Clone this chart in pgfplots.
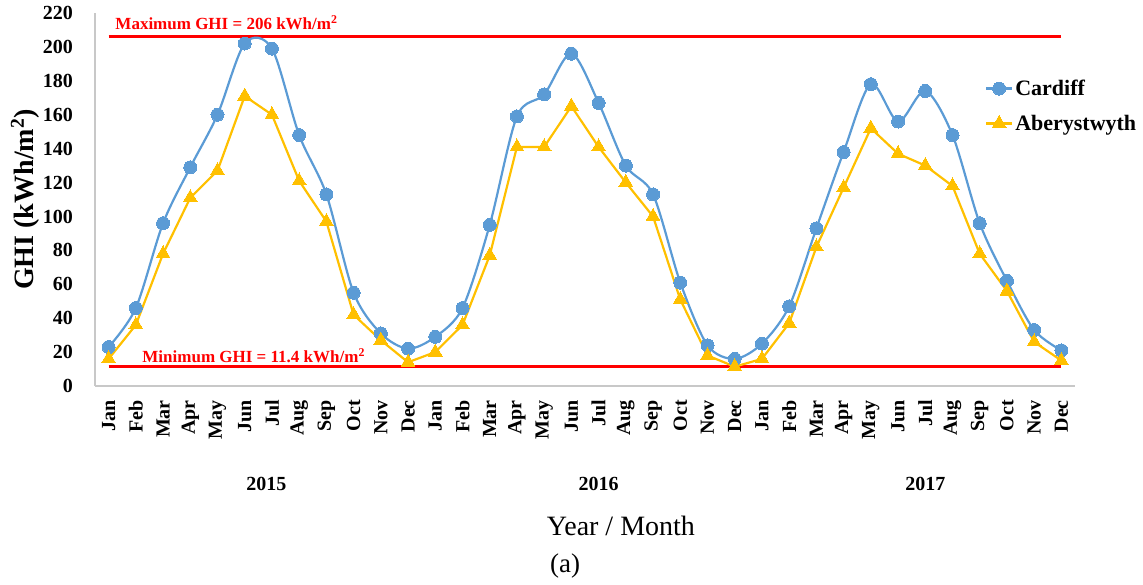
\documentclass[border=0pt]{standalone}
\usepackage{pgfplots}
\pgfplotsset{compat=1.18}
\usepackage{fontspec}
\setmainfont{Liberation Serif}
\definecolor{cblue}{HTML}{5B9BD5}
\definecolor{cgold}{HTML}{FFC000}
\definecolor{cred}{HTML}{FF0000}
\definecolor{axgray}{HTML}{C8C8C8}
\newcommand{\fs}[1]{\fontsize{#1}{#1}\selectfont}
\pgfplotstableread{
x cardiff aber
0 23 16
1 46 36
2 96 78
3 129 111
4 160 127
5 202 171
6 199 160
7 148 121
8 113 97
9 55 42
10 31 27
11 22 14
12 29 20
13 46 36
14 95 77
15 159 141
16 172 141
17 196 165
18 167 141
19 130 120
20 113 100
21 61 51
22 24 18
23 16 11.4
24 25 16
25 47 37
26 93 82
27 138 117
28 178 152
29 156 137
30 174 130
31 148 118
32 96 78
33 62 56
34 33 26
35 21 15
}\ghidata
\begin{document}
\begin{tikzpicture}
\begin{axis}[
 at={(0,0)}, anchor=south west,
 scale only axis, width=980pt, height=373pt,
 xmin=-0.5, xmax=35.5, ymin=0, ymax=220,
 axis x line*=bottom, axis y line*=left,
 axis line style={axgray, line width=1.2pt},
 ytick={0,20,...,220},
 xtick={0,...,35},
 xticklabels={Jan,Feb,Mar,Apr,May,Jun,Jul,Aug,Sep,Oct,Nov,Dec,Jan,Feb,Mar,Apr,May,Jun,Jul,Aug,Sep,Oct,Nov,Dec,Jan,Feb,Mar,Apr,May,Jun,Jul,Aug,Sep,Oct,Nov,Dec},
 major tick length=0pt,
 /pgf/number format/assume math mode=true,
 yticklabel style={font=\bfseries\fs{20}, inner sep=0pt, anchor=east, xshift=-22pt},
 xticklabel style={font=\bfseries\fs{20}, inner sep=0pt, rotate=90, anchor=east, xshift=-14pt},
 clip=false,
 legend style={at={(axis description cs:0.908,0.826)}, anchor=north west, draw=none, fill=none,
   font=\bfseries\fs{22}, row sep=14pt, inner sep=0pt, nodes={inner sep=2pt}},
 legend cell align=left,
 legend image code/.code={\draw[mark repeat=2,mark phase=2,#1] plot coordinates {(0pt,0pt) (13pt,0pt) (26pt,0pt)};},
]
\addplot[cred, line width=3pt, forget plot] coordinates {(0,206) (35,206)};
\addplot[cred, line width=3pt, forget plot] coordinates {(0,11.4) (35,11.4)};
\addplot[cblue, line width=2.2pt, smooth, mark=*, mark size=6.5pt, mark options={fill=cblue, draw=cblue, line width=0pt}] table[x=x, y=cardiff] {\ghidata};
\addlegendentry{Cardiff}
\addplot[cgold, line width=2.2pt, mark=triangle*, mark size=8pt, mark options={fill=cgold, draw=cgold, line width=0pt}] table[x=x, y=aber] {\ghidata};
\addlegendentry{Aberystwyth}
\node[anchor=base, text=cred, font=\bfseries\fs{17}] at ([yshift=7pt]axis cs:4.33,206) {Maximum GHI = 206 kWh/m\textsuperscript{2}};
\node[anchor=base, text=cred, font=\bfseries\fs{17}] at ([yshift=4pt]axis cs:5.33,11.4) {Minimum GHI = 11.4 kWh/m\textsuperscript{2}};
\node[anchor=base, font=\bfseries\fs{20}] at ([yshift=-104pt]axis cs:5.8,0) {2015};
\node[anchor=base, font=\bfseries\fs{20}] at ([yshift=-104pt]axis cs:18,0) {2016};
\node[anchor=base, font=\bfseries\fs{20}] at ([yshift=-104pt]axis cs:30,0) {2017};
\node[anchor=base, font=\fs{28}] at ([yshift=-149pt]axis cs:18.82,0) {Year / Month};
\node[anchor=base, font=\fs{27}] at ([yshift=-186pt]axis cs:16.77,0) {(a)};
\node[rotate=90, font=\bfseries\fs{28}] at ([xshift=-70pt]axis description cs:0,0.5) {GHI (kWh/m\textsuperscript{2})};
\end{axis}
\pgfresetboundingbox
\useasboundingbox (-95pt,-199pt) rectangle (1048pt,386pt);
\end{tikzpicture}
\end{document}
